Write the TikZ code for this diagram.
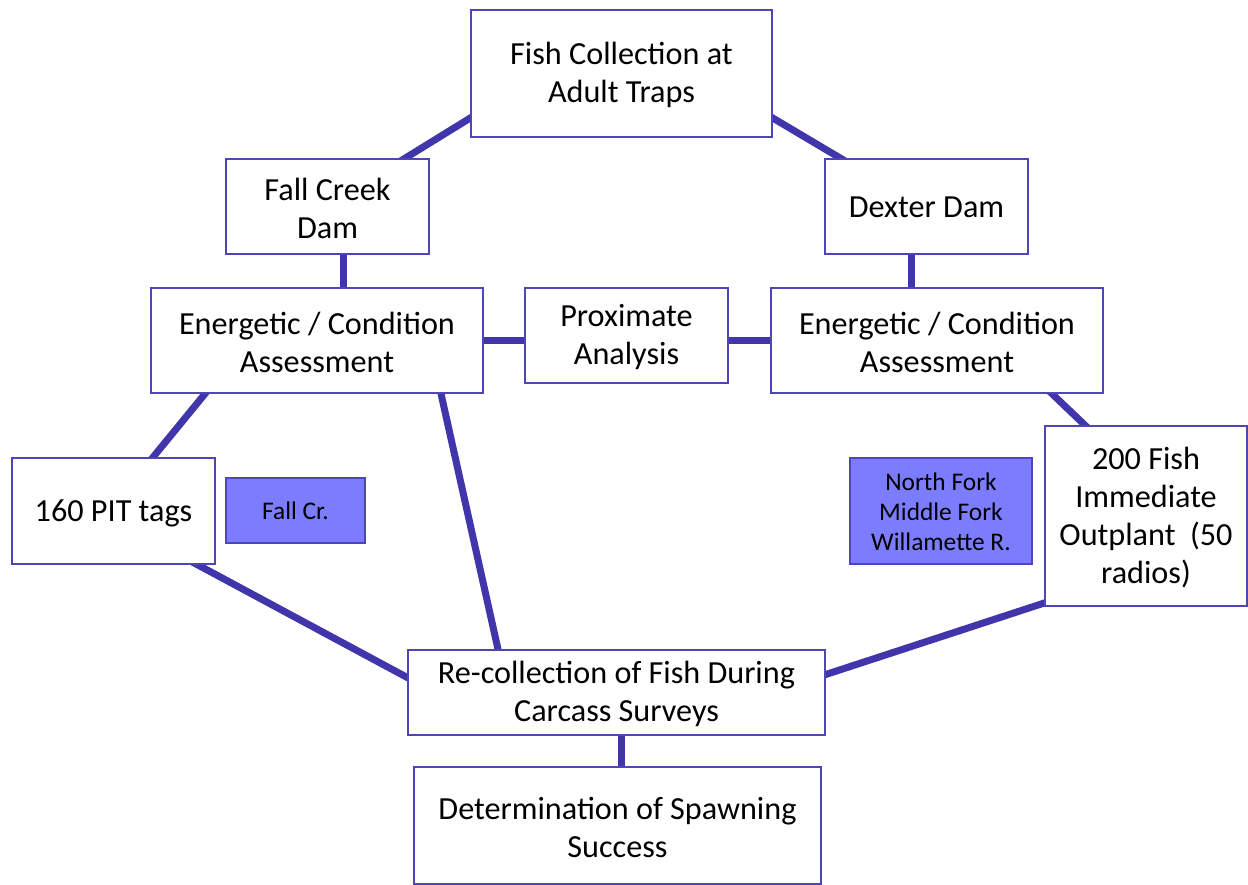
\documentclass[tikz,border=0pt]{standalone}
\usepackage{fontspec}
\setmainfont{Carlito}
\usetikzlibrary{calc,backgrounds}
\definecolor{linkc}{RGB}{64,53,170}
\definecolor{edgec}{RGB}{78,70,182}
\definecolor{tagfill}{RGB}{124,124,255}
\newcommand{\topL}{\rule{0pt}{25.5pt}}
\newcommand{\topS}{\rule{0pt}{19pt}}
\newcommand{\oneL}{\rule[-8.5pt]{0pt}{38pt}}
\newcommand{\oneS}{\rule[-6pt]{0pt}{30pt}}
\begin{document}
\begin{tikzpicture}[x=1pt,y=-1pt,
  box/.style={draw=edgec,line width=1.5pt,fill=white,rectangle,inner sep=0pt,align=center,
    font=\fontsize{32.2}{38}\selectfont},
  tag/.style={draw=edgec,line width=1.5pt,fill=tagfill,rectangle,inner sep=0pt,align=center,
    font=\fontsize{25.4}{30}\selectfont},
  link/.style={draw=linkc,line width=7pt,shorten <=-6pt,shorten >=-6pt}]
\useasboundingbox (0,0) rectangle (1248,884);
\node[box,minimum width=301pt,minimum height=127pt] (fc) at (621.5,73.5) {\topL Fish Collection at\\Adult Traps};
\node[box,minimum width=203pt,minimum height=95pt] (fcd) at (327.5,206.5) {\topL Fall Creek\\Dam};
\node[box,minimum width=203pt,minimum height=95pt] (dd) at (926.5,206.5) {\oneL Dexter Dam};
\node[box,minimum width=332pt,minimum height=105pt] (el) at (317,340.5) {\topL Energetic / Condition\\Assessment};
\node[box,minimum width=203pt,minimum height=95pt] (pa) at (626.5,335.5) {\topL Proximate\\Analysis};
\node[box,minimum width=332pt,minimum height=105pt] (er) at (937,340.5) {\topL Energetic / Condition\\Assessment};
\node[box,minimum width=203pt,minimum height=106pt] (pit) at (113.5,511) {\oneL 160 PIT tags};
\node[tag,minimum width=139pt,minimum height=65pt] (fcr) at (295.5,510.5) {\oneS Fall Cr.};
\node[tag,minimum width=182pt,minimum height=106pt] (nf) at (941,511) {\topS North Fork\\Middle Fork\\Willamette R.};
\node[box,minimum width=202pt,minimum height=180pt] (of) at (1146,516) {\topL 200 Fish\\Immediate\\Outplant\ \ (50\\radios)};
\node[box,minimum width=417pt,minimum height=85pt] (rc) at (616.5,692.5) {\topL Re-collection of Fish During\\Carcass Surveys};
\node[box,minimum width=407pt,minimum height=117pt] (ds) at (617.5,825.5) {\topL Determination of Spawning\\Success};
\begin{scope}[on background layer]
\draw[link] ($(fc.west)+(0,44.5)$) -- ($(fcd.north)+(77.5,0)$);
\draw[link] ($(fc.east)+(0,44.5)$) -- ($(dd.north)+(-86,0)$);
\draw[link] ($(fcd.south)+(15.5,0)$) -- ($(el.north)+(26,0)$);
\draw[link] ($(dd.south)+(-15.5,0)$) -- ($(er.north)+(-26,0)$);
\draw[link] (el.east) -- (el.east -| pa.west);
\draw[link] (pa.east |- er.west) -- (er.west);
\draw[link] ($(el.south)+(-112,0)$) -- ($(pit.north)+(39.5,0)$);
\draw[link] ($(el.south)+(124,0)$) -- ($(rc.north)+(-118.5,0)$);
\draw[link] ($(pit.south)+(84,0)$) -- ($(rc.west)+(0,-15)$);
\draw[link] ($(er.south)+(115,0)$) -- ($(of.north)+(-61,0)$);
\draw[link] ($(of.west)+(0,87)$) -- ($(rc.east)+(0,-18)$);
\draw[link] ($(rc.south)+(5,0)$) -- ($(ds.north)+(4,0)$);
\end{scope}
\end{tikzpicture}
\end{document}
